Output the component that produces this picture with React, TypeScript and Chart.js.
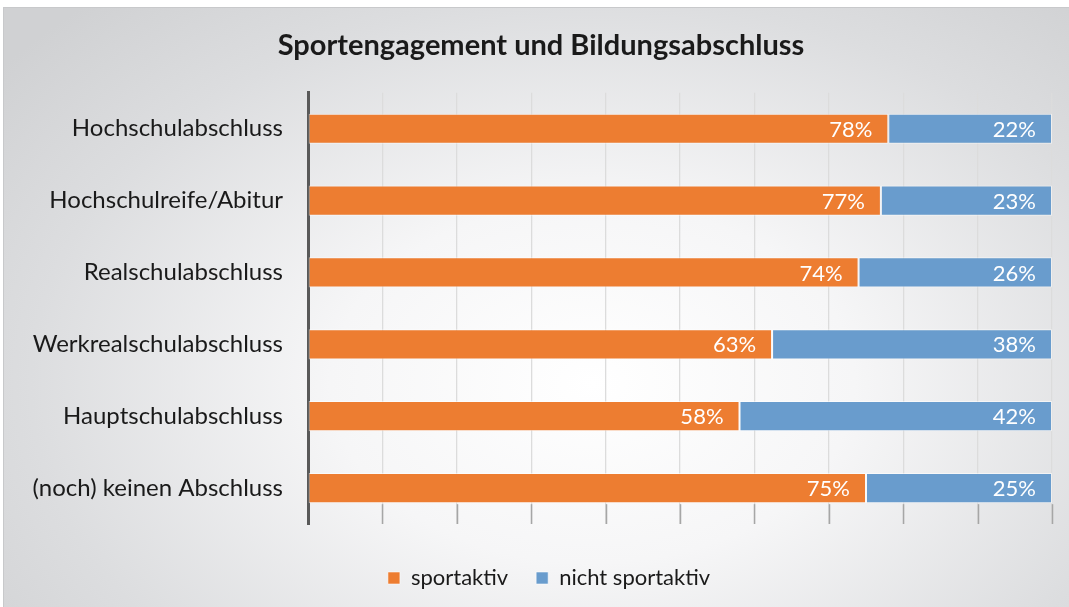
import React, { useEffect, useRef } from "react";
import { Chart, registerables } from "chart.js";

Chart.register(...registerables);

const categories = [
  "Hochschulabschluss",
  "Hochschulreife/Abitur",
  "Realschulabschluss",
  "Werkrealschulabschluss",
  "Hauptschulabschluss",
  "(noch) keinen Abschluss",
];
const sportaktiv = [78, 77, 74, 63, 58, 75];
const nichtSportaktiv = [22, 23, 26, 38, 42, 25];
const seriesNames = ["sportaktiv", "nicht sportaktiv"];
const title = "Sportengagement und Bildungsabschluss";

const FONT = "Lato, 'Open Sans', sans-serif";

// 100% stacked shares
const sportShare = sportaktiv.map((v, i) => (v / (v + nichtSportaktiv[i])) * 100);
const nichtShare = nichtSportaktiv.map((v, i) => (v / (sportaktiv[i] + v)) * 100);
const rawValues = [sportaktiv, nichtSportaktiv];

const shiftPlugin = {
  id: "shiftBlocks",
  afterLayout(chart: any) {
    if (chart.legend) {
      chart.legend.left += 14;
      chart.legend.right += 14;
    }
    if (chart.titleBlock) {
      chart.titleBlock.left += 6;
      chart.titleBlock.right += 6;
    }
  },
};

const valueLabelPlugin = {
  id: "valueLabels",
  afterDatasetsDraw(chart: any) {
    const { ctx, chartArea, scales } = chart;
    ctx.save();
    // darker tick segments below the last bar
    const lastMeta = chart.getDatasetMeta(0);
    const lastEl = lastMeta.data[lastMeta.data.length - 1];
    if (lastEl) {
      const yStart = lastEl.y + lastEl.height / 2 + 1;
      ctx.strokeStyle = "#a6a6a6";
      ctx.lineWidth = 1.5;
      for (let v = 10; v <= 100; v += 10) {
        const x = Math.round(scales.x.getPixelForValue(v)) + 0.5;
        ctx.beginPath();
        ctx.moveTo(x, yStart);
        ctx.lineTo(x, chartArea.bottom);
        ctx.stroke();
      }
    }
    ctx.font = `22px ${FONT}`;
    ctx.fillStyle = "#ffffff";
    ctx.textAlign = "right";
    ctx.textBaseline = "middle";
    chart.data.datasets.forEach((ds: any, di: number) => {
      const meta = chart.getDatasetMeta(di);
      meta.data.forEach((el: any, i: number) => {
        ctx.fillText(`${rawValues[di][i]}%`, el.x - 16, el.y + 1);
      });
    });
    ctx.restore();
  },
};

export default function App() {
  const ref = useRef<HTMLCanvasElement>(null);
  useEffect(() => {
    const chart = new Chart(ref.current as HTMLCanvasElement, {
      type: "bar",
      data: {
        labels: categories,
        datasets: [
          {
            label: seriesNames[0],
            data: sportShare,
            backgroundColor: "#ed7d31",
            borderColor: "rgba(255,255,255,0.55)",
            borderWidth: 1,
            borderSkipped: false,
            categoryPercentage: 0.42,
            barPercentage: 1,
          },
          {
            label: seriesNames[1],
            data: nichtShare,
            backgroundColor: "#699ccd",
            borderColor: "rgba(255,255,255,0.55)",
            borderWidth: 1,
            borderSkipped: false,
            categoryPercentage: 0.42,
            barPercentage: 1,
          },
        ],
      },
      options: {
        indexAxis: "y",
        animation: false,
        responsive: false,
        maintainAspectRatio: false,
        layout: { padding: { top: 28, left: 18, right: 17, bottom: 8 } },
        scales: {
          x: {
            stacked: true,
            min: 0,
            max: 100,
            ticks: { display: false, stepSize: 10 },
            grid: { color: "#dcdcdc", lineWidth: 1.3, drawTicks: false },
            border: { display: false },
            afterFit(scale: any) {
              scale.height = 15;
            },
          },
          y: {
            stacked: true,
            grid: { display: false, drawTicks: false },
            border: { display: true, color: "#595959", width: 3 },
            ticks: {
              padding: 25,
              color: "#1a1a1a",
              font: { family: FONT, size: 24 },
            },
            afterFit(scale: any) {
              scale.width = 290;
            },
          },
        },
        plugins: {
          title: {
            display: true,
            text: title,
            color: "#1a1a1a",
            font: { family: FONT, size: 29, weight: "bold" },
            padding: { top: 0, bottom: 30 },
          },
          legend: {
            position: "bottom",
            labels: {
              boxWidth: 12,
              boxHeight: 12,
              padding: 28,
              color: "#1a1a1a",
              font: { family: FONT, size: 22 },
            },
          },
          tooltip: { enabled: false },
        },
      } as any,
      plugins: [shiftPlugin, valueLabelPlugin],
    });
    return () => chart.destroy();
  }, []);

  return (
    <div style={{ position: "fixed", left: 0, top: 0, width: 1069, height: 607, background: "#ffffff" }}>
      <div
        style={{
          position: "absolute",
          left: 3,
          top: 7,
          width: 1070,
          height: 605,
          border: "1px solid #c8c9cb",
          background:
            "radial-gradient(ellipse 70% 85% at 55% 62%, #ffffff 0%, #f6f6f7 35%, #dcdddf 75%, #d0d1d3 100%)",
        }}
      />
      <canvas
        ref={ref}
        width={1069}
        height={607}
        style={{ position: "absolute", left: 0, top: 0, width: 1069, height: 607 }}
      />
    </div>
  );
}
